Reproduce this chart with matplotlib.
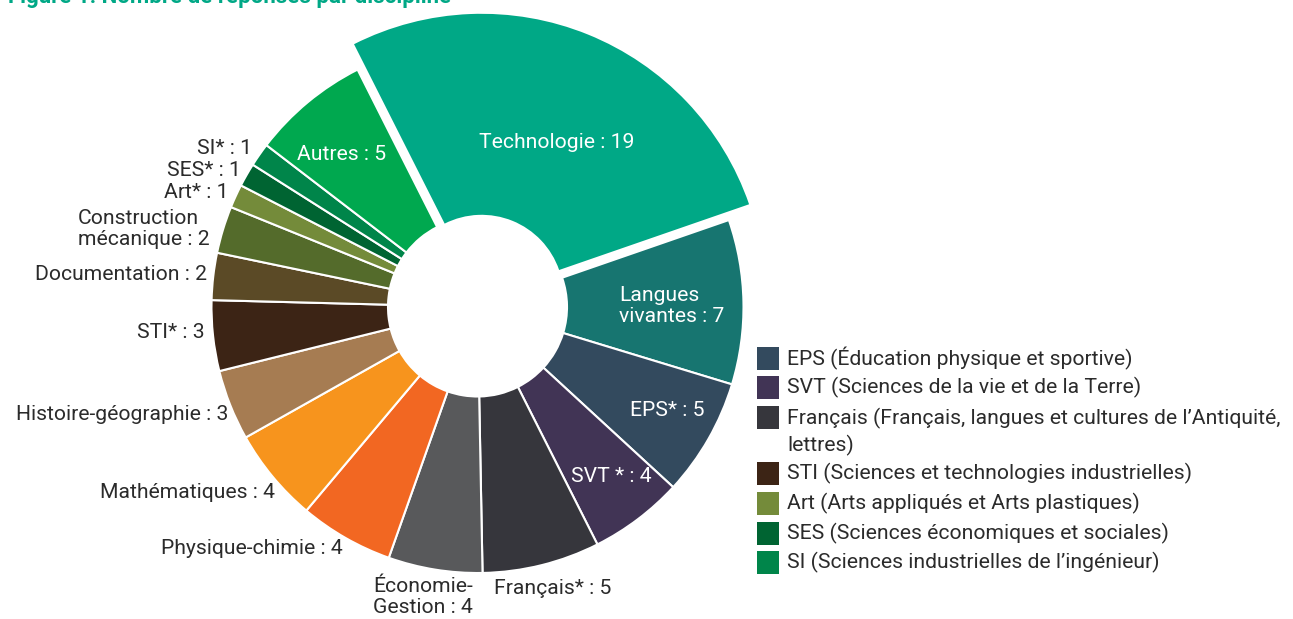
import matplotlib.pyplot as plt
from matplotlib.patches import Rectangle

plt.rcParams['font.family'] = ['Roboto', 'DejaVu Sans']

W, H = 1293, 619

disciplines = ['Technologie', 'Langues\nvivantes', 'EPS*', 'SVT *', 'Français*',
               'Économie-\nGestion', 'Physique-chimie', 'Mathématiques',
               'Histoire-géographie', 'STI*', 'Documentation',
               'Construction\nmécanique', 'Art*', 'SES*', 'SI*', 'Autres']
reponses = [19, 7, 5, 4, 5, 4, 4, 4, 3, 3, 2, 2, 1, 1, 1, 5]
couleurs = ['#00a886', '#177570', '#334a5e', '#413455', '#36363c', '#58595b',
            '#f26722', '#f7941d', '#a67c52', '#3c2415', '#5b4a26', '#546b2b',
            '#748b3a', '#006432', '#00854a', '#00a84f']

legende = ['EPS (Éducation physique et sportive)',
           'SVT (Sciences de la vie et de la Terre)',
           'Français (Français, langues et cultures de l\u2019Antiquité,\nlettres)',
           'STI (Sciences et technologies industrielles)',
           'Art (Arts appliqués et Arts plastiques)',
           'SES (Sciences économiques et sociales)',
           'SI (Sciences industrielles de l\u2019ingénieur)']
legende_couleurs = ['#334a5e', '#413455', '#36363c', '#3c2415', '#748b3a', '#006432', '#00854a']

fig = plt.figure(figsize=(W / 100, H / 100), dpi=100)
ax = fig.add_axes([0, 0, 1, 1])

cx, cy = 477.5, H - 307
R, r_in = 266, 89.5
explode = [11] + [0] * (len(reponses) - 1)

wedges, _ = ax.pie(reponses, colors=couleurs, startangle=116.8, counterclock=False,
                   center=(cx, cy), radius=R, explode=explode, frame=True,
                   wedgeprops=dict(width=R - r_in, edgecolor='white', linewidth=1.5))
# the highlighted slice is drawn a bit bigger than the others
wedges[0].set_radius(283)
wedges[0].set_width(283 - 82)
wedges[0].set_linewidth(0)
ax.set_xlim(0, W)
ax.set_ylim(0, H)
ax.set_aspect('equal')
ax.axis('off')

DARK = '#2b2b2b'
FS = 15.2


def txt(x, y, s, **kw):
    kw.setdefault('fontsize', FS)
    kw.setdefault('color', DARK)
    kw.setdefault('va', 'center')
    ax.text(x, H - y, s, **kw)


lab = [f'{d} : {v}' for d, v in zip(disciplines, reponses)]

# labels inside the slices
txt(557, 143, lab[0], color='white', ha='center')
txt(619, 306, lab[1], color='white', ha='left', linespacing=1.15)
txt(667, 411, lab[2], color='white', ha='center')
txt(611, 476, lab[3], color='white', ha='center')
txt(342, 155, lab[15], color='white', ha='center')

# labels outside
txt(494, 588, lab[4], ha='left')
txt(373, 597, lab[5], ha='left', linespacing=1.15)
txt(343, 548, lab[6], ha='right')
txt(275, 492, lab[7], ha='right')
txt(228, 415, lab[8], ha='right')
txt(205, 333, lab[9], ha='right')
txt(207, 275, lab[10], ha='right')
txt(78, 229, lab[11], ha='left', linespacing=1.15)
txt(228, 193, lab[12], ha='right')
txt(241, 170, lab[13], ha='right')
txt(252, 148, lab[14], ha='right')

# legend
ly = [358, 387, 417, 473, 503, 533, 562]
for y, s, c in zip(ly, legende, legende_couleurs):
    ax.add_patch(Rectangle((757, H - y - 11.5), 22, 23, color=c, lw=0))
    if '\n' in s:
        txt(787, y + 15, s, linespacing=1.4)
    else:
        txt(787, y, s)

# title, mostly above the top edge
ax.text(8, H - 3, 'Figure 1. Nombre de réponses par discipline', fontsize=16,
        fontweight='bold', color='#00a886', va='baseline', ha='left')

fig.savefig('out.png', dpi=100)
